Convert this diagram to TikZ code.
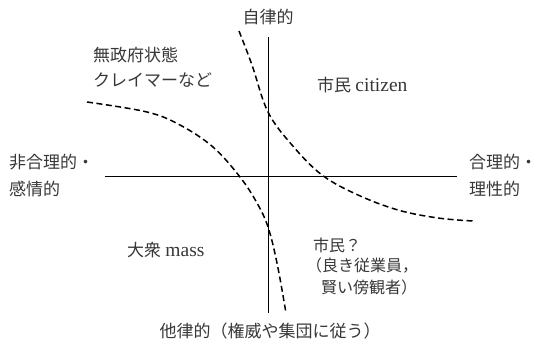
\documentclass[tikz,border=0pt]{standalone}
\usepackage{fontspec}
\setmainfont{Liberation Serif}
\newfontfamily\cjk{Noto Sans CJK JP}
\definecolor{txt}{RGB}{55,55,55}
\newcommand{\latbig}[1]{{\fontsize{19.5}{25}\selectfont #1}}
\begin{document}
\begin{tikzpicture}[x=1pt,y=-1pt,
  lbl/.style={inner sep=0pt, text=txt, font=\fontsize{17}{25}\selectfont},
  lblsm/.style={inner sep=0pt, text=txt, font=\fontsize{16}{21}\selectfont, align=left},
  axis/.style={line width=0.9pt, black},
  bound/.style={line width=1.5pt, black, dash pattern=on 6pt off 3.5pt}]
\useasboundingbox (0,0) rectangle (536,343);
% axes
\coordinate (vt) at (268,37);
\coordinate (vb) at (268,313);
\coordinate (hl) at (105,176);
\coordinate (hr) at (457,176);
\draw[axis] (vt) -- (vb);
\draw[axis] (hl) -- (hr);
% boundaries
\draw[bound] plot[smooth, tension=0.6] coordinates {(239,31) (252,65) (268,112) (292,145) (322,175) (358,195) (398,210) (438,218) (473,221)};
\draw[bound] plot[smooth, tension=0.6] coordinates {(87,102) (147,112) (180,125) (213,147) (240,177) (257,203) (268,227) (277,263) (286,313)};
% labels
\node[lbl] (top) at (268,17) {\cjk 自律的};
\node[lbl, anchor=west] (anarchy1) at (93,55) {\cjk 無政府状態};
\node[lbl, anchor=west] (anarchy2) at (93,80) {\cjk クレイマーなど};
\node[lbl, anchor=west] (citizen) at (317,85) {{\cjk 市民} \latbig{citizen}};
\node[lbl, anchor=west] (left1) at (9,162) {\cjk 非合理的・};
\node[lbl, anchor=west] (left2) at (9,189) {\cjk 感情的};
\node[lbl, anchor=west] (right1) at (469,162) {\cjk 合理的・};
\node[lbl, anchor=west] (right2) at (469,189) {\cjk 理性的};
\node[lbl, anchor=west] (mass) at (127,250) {{\cjk 大衆} \latbig{mass}};
\node[lblsm, anchor=west] (cit2a) at (313,245) {\cjk 市民？};
\node[lblsm, anchor=west] (cit2b) at (306,266) {\cjk （良き従業員，};
\node[lblsm, anchor=west] (cit2c) at (321,287) {\cjk 賢い傍観者）};
\node[lbl] (bottom) at (270,331) {\cjk 他律的（権威や集団に従う）};
\end{tikzpicture}
\end{document}
